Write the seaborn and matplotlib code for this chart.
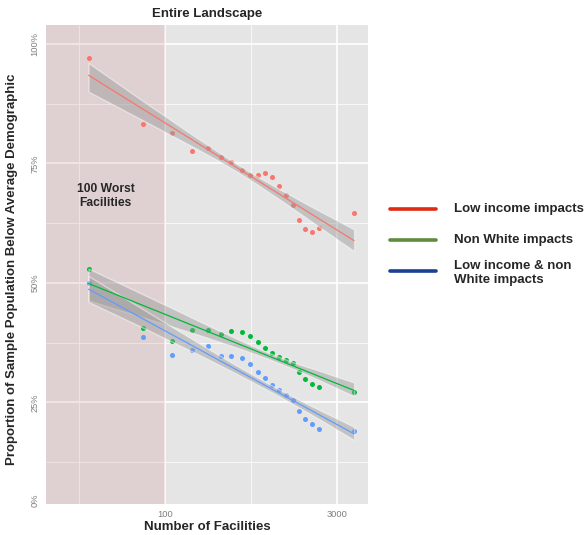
#!/usr/bin/env python3

import matplotlib
matplotlib.use('Agg')
import matplotlib.pyplot as plt
import matplotlib.ticker as mticker
from matplotlib.collections import PathCollection
from matplotlib.lines import Line2D
import pandas as pd
import seaborn as sns

# Dados
facilities = [22, 65, 115, 170, 235, 305, 370, 460, 540, 635,
              725, 840, 955, 1095, 1265, 1425, 1605, 1830, 2130, 4240]
low_income = [0.971, 0.832, 0.813, 0.777, 0.783, 0.763, 0.754, 0.736, 0.726, 0.726,
              0.730, 0.721, 0.703, 0.685, 0.664, 0.632, 0.613, 0.606, 0.615, 0.646]
non_white = [0.530, 0.406, 0.379, 0.401, 0.402, 0.393, 0.400, 0.398, 0.388, 0.377,
             0.364, 0.354, 0.344, 0.338, 0.332, 0.314, 0.298, 0.289, 0.281, 0.271]
low_income_non_white = [0.500, 0.386, 0.348, 0.360, 0.368, 0.347, 0.347, 0.343, 0.331, 0.314,
                        0.301, 0.287, 0.275, 0.266, 0.255, 0.232, 0.216, 0.205, 0.195, 0.189]

series_names = ['Low income impacts', 'Non White impacts', 'Low income & non\nWhite impacts']
point_colors = ['#F8766D', '#00BA38', '#619CFF']
legend_colors = ['#E02A12', '#5E8B3E', '#1B3F93']
y_ticks = [0.045, 0.25, 0.5, 0.75, 1.0]
y_tick_labels = ['0%', '25%', '50%', '75%', '100%']
x_ticks = [100, 3000]
x_minor = [18.3, 548]
worst_cutoff = 100

df = pd.DataFrame({
    'facilities': facilities * 3,
    'share': low_income + non_white + low_income_non_white,
    'group': sum([[n] * len(facilities) for n in series_names], []),
})

sns.set_style('darkgrid', {'axes.facecolor': '#E5E5E5', 'grid.color': 'white'})
plt.rcParams['font.family'] = ['Liberation Sans', 'DejaVu Sans']

fig = plt.figure(figsize=(5.84, 5.35), dpi=100)
ax = fig.add_axes([46 / 584, 1 - 504 / 535, 322 / 584, 479 / 535])
ax.set_xscale('log')

# Região dos 100 piores
ax.axvspan(1, worst_cutoff, color='#B84444', alpha=0.12, lw=0, zorder=1)

for name, color in zip(series_names, point_colors):
    sub = df[df['group'] == name]
    n_before = len(ax.collections)
    sns.regplot(data=sub, x='facilities', y='share', logx=True, ci=85, seed=1,
                color=color, ax=ax,
                scatter_kws=dict(s=13, linewidths=0, alpha=1),
                line_kws=dict(lw=0.9))
    # banda de confiança cinza, como no ggplot
    for coll in ax.collections[n_before:]:
        if not isinstance(coll, PathCollection):
            coll.set_facecolor('#999999')
            coll.set_alpha(0.45)

ax.set_xlim(9.47, 5585)
ax.set_ylim(0.037, 1.04)
ax.xaxis.set_major_locator(mticker.FixedLocator(x_ticks))
ax.xaxis.set_major_formatter(mticker.FixedFormatter([str(t) for t in x_ticks]))
ax.xaxis.set_minor_locator(mticker.FixedLocator(x_minor))
ax.xaxis.set_minor_formatter(mticker.NullFormatter())
ax.set_yticks(y_ticks)
ax.set_yticklabels(y_tick_labels)
ax.yaxis.set_minor_locator(mticker.FixedLocator([0.125, 0.375, 0.625, 0.875]))
ax.grid(which='major', color='white', lw=1.2)
ax.grid(which='minor', color='white', lw=0.5)
ax.get_ygridlines()[0].set_visible(False)

ax.tick_params(axis='both', which='major', length=3, width=0.6, color='#555555',
               labelsize=6.7, labelcolor='#7F7F7F', pad=1.5)
ax.tick_params(axis='both', which='minor', length=0)
ax.tick_params(axis='y', labelrotation=90)
for lbl in ax.get_yticklabels():
    lbl.set_va('center')
for s in ax.spines.values():
    s.set_visible(False)

ax.set_xlabel('Number of Facilities', fontsize=9.5, fontweight='bold')
ax.xaxis.set_label_coords(0.5, -0.036)
ax.xaxis.label.set_va('top')
ax.set_ylabel('Proportion of Sample Population Below Average Demographic',
              fontsize=9.5, fontweight='bold')
ax.yaxis.set_label_coords(-0.087, 0.49)
ax.set_title('Entire Landscape', fontsize=9.5, fontweight='bold', pad=6)

ax.text(31, 0.682, '100 Worst\nFacilities', ha='center', va='center',
        fontsize=8.7, fontweight='bold', linespacing=1.25)

# Legenda manual à direita
legend_y = [209, 240, 271]
for name, color, ly in zip(series_names, legend_colors, legend_y):
    fig.add_artist(Line2D([390 / 584, 436 / 584], [1 - ly / 535] * 2,
                          color=color, lw=2.6, transform=fig.transFigure))
    ty = ly + (2 if '\n' in name else 0)
    fig.text(454 / 584, 1 - ty / 535, name, ha='left', va='center',
             fontsize=9.5, fontweight='bold', linespacing=1.15)

fig.savefig('out.png', dpi=100)
